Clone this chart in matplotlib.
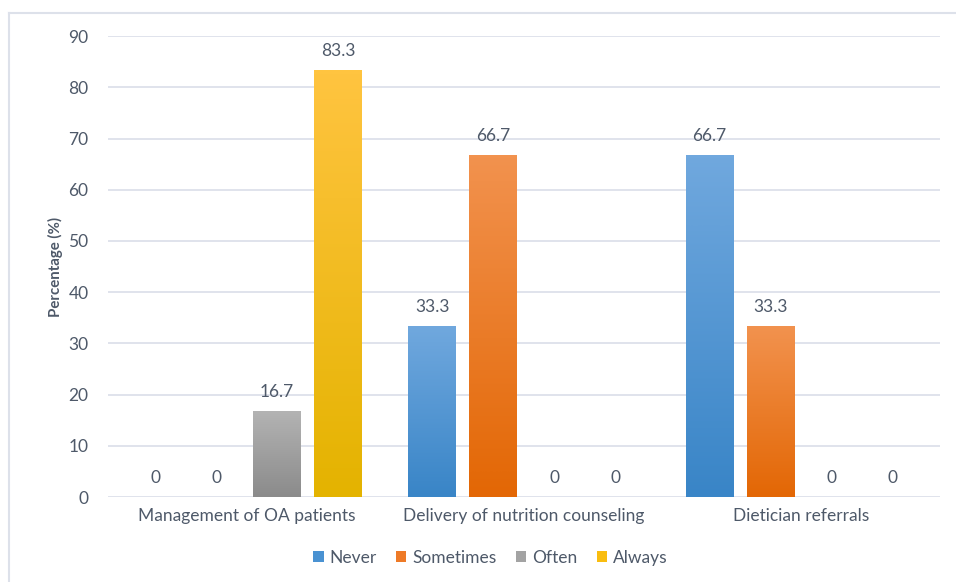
import numpy as np
import matplotlib
matplotlib.use('Agg')
import matplotlib.pyplot as plt
from matplotlib.colors import LinearSegmentedColormap
from matplotlib.patches import Patch
from matplotlib.lines import Line2D

plt.rcParams['font.family'] = ['Lato', 'DejaVu Sans']

categories = ['Management of OA patients', 'Delivery of nutrition counseling', 'Dietician referrals']
series = ['Never', 'Sometimes', 'Often', 'Always']
never = [0, 33.3, 66.7]
sometimes = [0, 66.7, 33.3]
often = [16.7, 0, 0]
always = [83.3, 0, 0]
values = [never, sometimes, often, always]

# top / bottom colours of the gradient fill, plus a flat colour for the legend
grad = [('#70a8de', '#3985c7'), ('#f2924e', '#e36705'), ('#b3b3b3', '#8b8b8b'), ('#ffc440', '#e4b300')]
flat = ['#4a92d2', '#ee7a27', '#a3a3a3', '#f9bd10']
txt = '#4e5969'
gridc = '#dde1ea'
fs = 12.5

fig = plt.figure(figsize=(9.56, 5.82), dpi=100)
ax = fig.add_axes([0.113, 0.146, 0.87, 0.792])

# outer chart frame (top + left visible)
fig.add_artist(Line2D([9/956, 1], [1-13/582, 1-13/582], color=gridc, lw=1.5, transform=fig.transFigure))
fig.add_artist(Line2D([9/956, 9/956], [0, 1-13/582], color=gridc, lw=1.5, transform=fig.transFigure))

x = np.arange(len(categories))
w = 0.173
step = 0.22
for i, (name, vals) in enumerate(zip(series, values)):
    xs = x + (i - 1.5) * step
    bars = ax.bar(xs, vals, width=w, color='none', edgecolor='none', zorder=3)
    cmap = LinearSegmentedColormap.from_list(name, [grad[i][1], grad[i][0]])
    for b, v in zip(bars, vals):
        if v > 0:
            bx = b.get_x()
            ax.imshow(np.linspace(0, 1, 100).reshape(-1, 1), cmap=cmap, origin='lower',
                      extent=(bx, bx + w, 0, v), aspect='auto', zorder=3, interpolation='bicubic')
        ax.annotate('%g' % v, (b.get_x() + w / 2, v), xytext=(0, 8), textcoords='offset points',
                    ha='center', va='bottom', fontsize=fs, color=txt)

ax.set_xlim(-0.5, 2.5)
ax.set_ylim(0, 90)
ax.set_yticks(range(0, 91, 10))
ax.set_xticks(x)
ax.set_xticklabels(categories, fontsize=fs, color=txt)
ax.tick_params(axis='y', labelsize=fs, labelcolor=txt, length=0, pad=14)
ax.tick_params(axis='x', length=0, pad=8)
ax.grid(axis='y', color=gridc, lw=1.3, zorder=0)
ax.set_axisbelow(True)
for s in ax.spines.values():
    s.set_visible(False)
ax.set_ylabel('Percentage (%)', fontsize=10.8, fontweight='bold', color=txt, labelpad=4)

handles = [Patch(facecolor=c, edgecolor='none') for c in flat]
fig.legend(handles, series, loc='center', bbox_to_anchor=(0.513, 1 - 558/582), ncol=4, frameon=False,
           fontsize=fs, labelcolor=txt, handlelength=0.6, handleheight=0.6, handletextpad=0.35, columnspacing=1.1)

fig.savefig('out.png', dpi=100)
